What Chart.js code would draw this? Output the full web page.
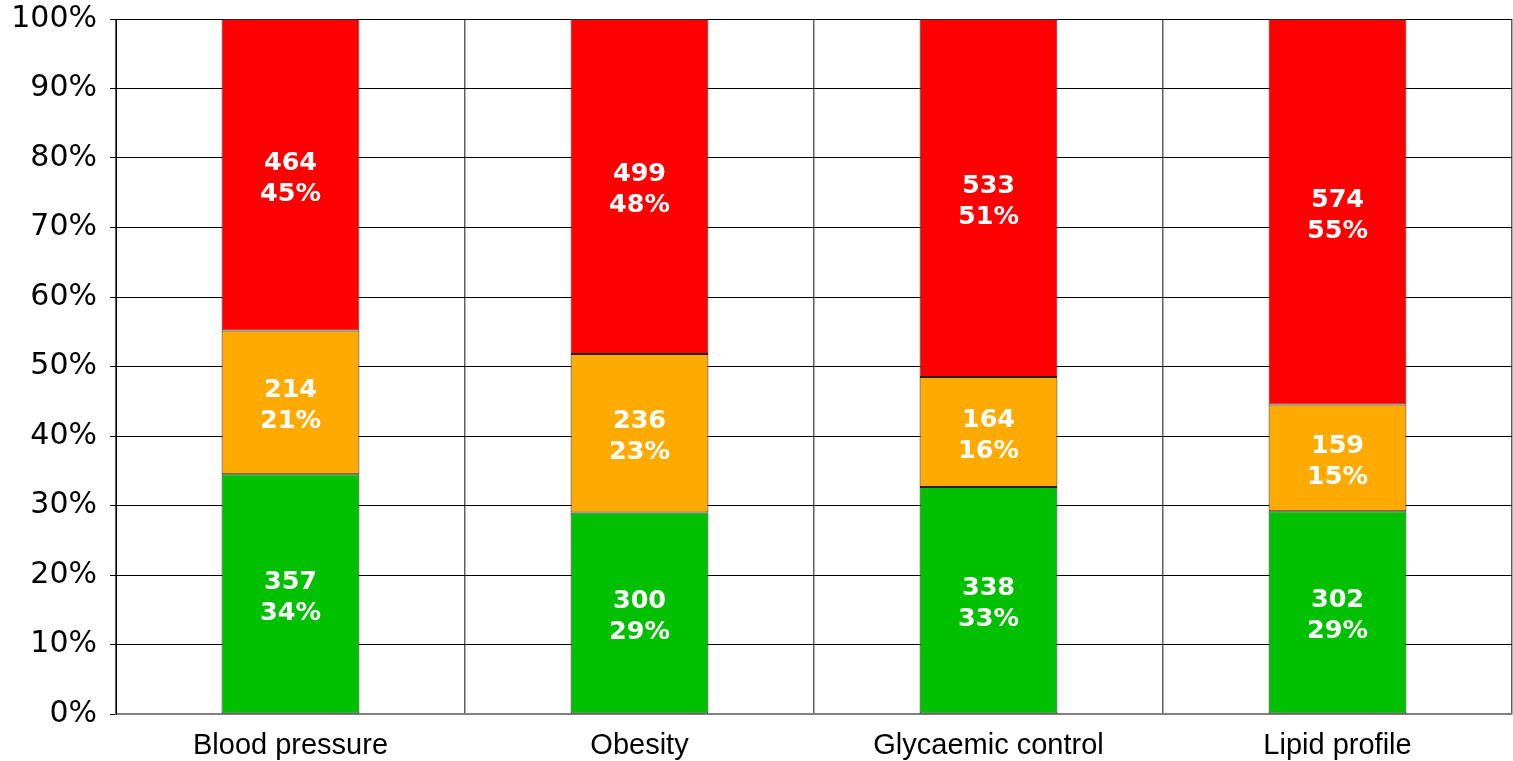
<!DOCTYPE html>
<html>
<head>
<meta charset="utf-8">
<script src="https://cdn.jsdelivr.net/npm/chart.js@4/dist/chart.umd.min.js"></script>
<style>
  html, body { margin: 0; padding: 0; background: #ffffff; }
  #wrap { width: 1513px; height: 761px; position: relative; }
</style>
</head>
<body>
<div id="wrap"><canvas id="chart"></canvas></div>
<script>
// Categories and patient counts per control status
const categories = ['Blood pressure', 'Obesity', 'Glycaemic control', 'Lipid profile'];
const goodCounts = [357, 300, 338, 302];
const fairCounts = [214, 236, 164, 159];
const poorCounts = [464, 499, 533, 574];
const yTickValues = [0, 10, 20, 30, 40, 50, 60, 70, 80, 90, 100];

const totals = categories.map((_, i) => goodCounts[i] + fairCounts[i] + poorCounts[i]);
const toShare = counts => counts.map((c, i) => c / totals[i] * 100);

const seriesDefs = [
  { label: 'Good', counts: goodCounts, color: '#00C000' },
  { label: 'Fair', counts: fairCounts, color: '#FFAA00' },
  { label: 'Poor', counts: poorCounts, color: '#FF0000' }
];

// Draws "count\npercent" in the middle of every stacked segment
const LABEL_SIZE = 25.5;
const segmentLabels = {
  id: 'segmentLabels',
  afterDatasetsDraw(chart) {
    const ctx = chart.ctx;
    ctx.save();
    ctx.fillStyle = '#ffffff';
    ctx.font = 'bold ' + LABEL_SIZE + 'px "DejaVu Sans"';
    ctx.textAlign = 'center';
    ctx.textBaseline = 'alphabetic';
    const digitHalf = 0.3645 * LABEL_SIZE;
    chart.data.datasets.forEach((ds, di) => {
      const meta = chart.getDatasetMeta(di);
      meta.data.forEach((bar, i) => {
        const cx = bar.x;
        const cy = (bar.y + bar.base) / 2;
        const count = ds.counts[i];
        const pct = Math.round(ds.data[i]) + '%';
        ctx.fillText(String(count), cx, cy - 14.5 + digitHalf);
        ctx.fillText(pct, cx, cy + 16.5 + digitHalf);
      });
    });
    ctx.restore();
  }
};

new Chart(document.getElementById('chart'), {
  type: 'bar',
  data: {
    labels: categories,
    datasets: seriesDefs.map(s => ({
      label: s.label,
      counts: s.counts,
      data: toShare(s.counts),
      backgroundColor: s.color,
      borderColor: '#222222',
      borderWidth: 1,
      borderSkipped: false,
      categoryPercentage: 1.0,
      barPercentage: 0.395
    }))
  },
  options: {
    responsive: true,
    maintainAspectRatio: false,
    animation: false,
    layout: { padding: { top: 19, right: 1, left: 0, bottom: 0 } },
    plugins: {
      legend: { display: false },
      tooltip: { enabled: false }
    },
    scales: {
      x: {
        stacked: true,
        grid: {
          offset: true,
          drawTicks: false,
          color: ctx => (ctx.index === categories.length ? '#c8c8c8' : '#606060'),
          lineWidth: ctx => (ctx.index === categories.length ? 1 : 1.5)
        },
        border: { color: '#808080', width: 2 },
        ticks: {
          color: '#000000',
          font: { family: '"Liberation Sans", Arial, sans-serif', size: 29 },
          padding: 15
        },
        afterFit(scale) {
          scale.height = 47;
          scale.paddingLeft = 0;
          scale.paddingRight = 0;
        }
      },
      y: {
        stacked: true,
        min: 0,
        max: 100,
        afterBuildTicks(scale) { scale.ticks = yTickValues.map(v => ({ value: v })); },
        grid: { color: '#000000', lineWidth: 1, tickLength: 6 },
        border: { color: '#000000', width: 1 },
        ticks: {
          color: '#000000',
          font: { family: '"DejaVu Sans", Verdana, sans-serif', size: 30 },
          padding: 13,
          callback: v => v + '%'
        },
        afterFit(scale) {
          scale.width = 116;
          scale.paddingTop = 0;
          scale.paddingBottom = 0;
        }
      }
    }
  },
  plugins: [segmentLabels]
});
</script>
</body>
</html>
